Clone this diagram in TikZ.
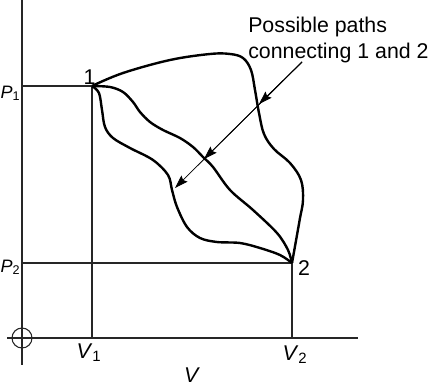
\documentclass[tikz,border=0pt]{standalone}
\usepackage{fontspec}
\setmainfont{Liberation Sans}
\usetikzlibrary{arrows.meta}

\begin{document}
\begin{tikzpicture}[
  x=0.75pt, y=-0.75pt,
  font=\fontsize{16}{19.5}\selectfont,
  axis/.style={line width=0.8pt, draw=black!85},
  guide/.style={line width=0.8pt, draw=black!85},
  pathc/.style={line width=1.8pt, line join=round},
  pointer/.style={-{Stealth[length=10pt,width=6.5pt,inset=1.5pt]}, line width=0.6pt},
  lbl/.style={inner sep=0pt},
  plbl/.style={lbl, anchor=base east, font=\fontsize{13.5}{16}\selectfont},
]
\useasboundingbox (0,0) rectangle (432,386);

% ---- states and origin ----
\coordinate (s1) at (92,86);
\coordinate (s2) at (292,263);
\coordinate (o)  at (22,338);

% ---- axes ----
\draw[axis] (22,0) -- (22,365);
\draw[axis] (7,338) -- (358,338);
\draw[axis] (o) circle[radius=10];

% ---- guide lines to the axes ----
\draw[guide] (o |- s1) -- (s1) -- (s1 |- o);
\draw[guide] (o |- s2) -- (s2) -- (s2 |- o);

% ---- three paths from 1 to 2 ----
\draw[pathc] plot[smooth, tension=0.6] coordinates {(s1) (123,73) (170,60) (210,54) (230,54)
  (243,58) (251,70) (255,90) (259,113) (264,134) (274,149) (290,163) (301,180) (303,200)
  (300,218) (297,235) (s2)};
\draw[pathc] plot[smooth, tension=0.55] coordinates {(s1) (110,87) (123,92) (133,102) (140,112)
  (150,122) (163,130) (180,138) (193,147) (203,157) (213,167) (230,190) (253,210) (277,233)
  (288,250) (s2)};
\draw[pathc] plot[smooth, tension=0.55] coordinates {(s1) (99,93) (102,110) (105,127) (113,138)
  (130,148) (153,160) (168,175) (172,190) (177,207) (187,227) (200,238) (217,242) (240,243)
  (260,248) (280,255) (s2)};

% ---- note and pointers ----
\node[lbl, anchor=north west, align=left] (note) at (248,17) {Possible paths\\connecting 1 and 2};
\coordinate (tail) at (302,62);
\coordinate (t1) at (259,104);
\coordinate (t2) at (204,159);
\coordinate (t3) at (175,188);
\foreach \t in {t1,t2,t3}{
  \draw[pointer] (tail) -- (\t);
}

% ---- labels ----
\node[lbl] (n1) at (89.5,77) {1};
\node[lbl] (n2) at (304,268) {2};
\node[plbl] (p1) at (20.5,98)  {\textit{P}\textsubscript{1}};
\node[plbl] (p2) at (20.5,272) {\textit{P}\textsubscript{2}};
\node[lbl, anchor=base] (v1) at (89,358)  {\textit{V}\textsubscript{1}};
\node[lbl, anchor=base] (v2) at (295,360) {\textit{V}\textsubscript{2}};
\node[lbl, anchor=base] (v)  at (192,382) {\textit{V}};
\end{tikzpicture}
\end{document}
